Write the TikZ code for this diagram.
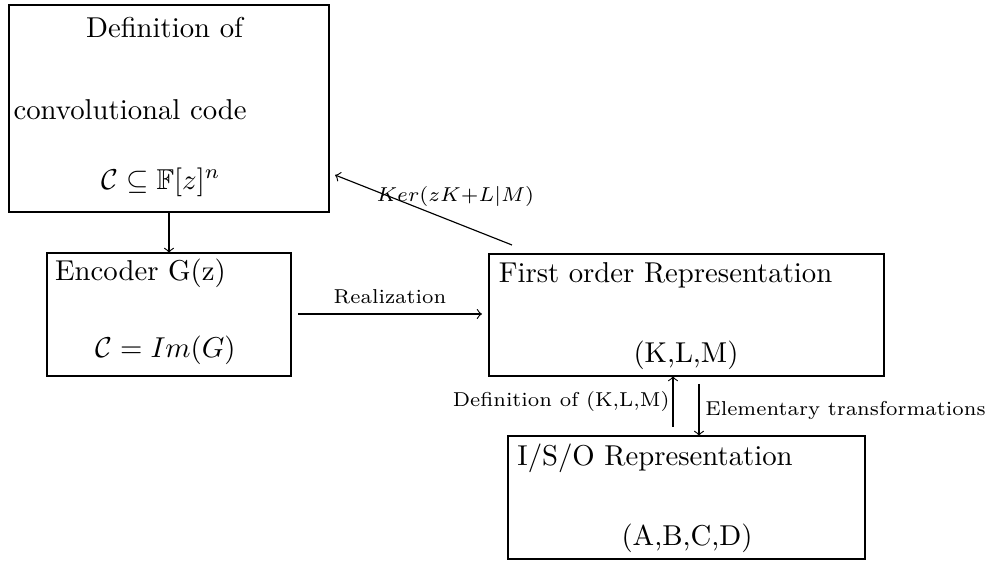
\documentclass[tikz,border=0pt]{standalone}
\usepackage{amsmath,amssymb,amsfonts}
\usepackage{xcolor}
\usepackage{tikz}
\usetikzlibrary{shapes,arrows,positioning,fit}

\newdimen\pxu
\pxu=0.348pt

\begin{document}
\begin{tikzpicture}[
    x=\pxu, y=-\pxu,
    box/.style={rectangle, draw, inner sep=0pt, outer sep=0pt},
    txt/.style={inner sep=0pt},
    lbl/.style={font=\scriptsize},
    arrow/.style={->}
]
    \useasboundingbox (0,0) rectangle (985,561);

    % boxes
    \node[box, minimum width=320*\pxu, minimum height=207*\pxu] (def) at (169,108.5) {};
    \node[box, minimum width=244*\pxu, minimum height=123*\pxu] (enc) at (169,314.5) {};
    \node[box, minimum width=395*\pxu, minimum height=122*\pxu] (first) at (686.5,315) {};
    \node[box, minimum width=357*\pxu, minimum height=123*\pxu] (iso) at (686.5,497.5) {};

    % box texts
    \node[txt] (deftop) at (164.5,28) {Definition of};
    \node[txt, anchor=west] (defmid) at (13,110) {convolutional code};
    \node[txt] (defbot) at (161,182) {$\mathcal{C}\subseteq\mathbb{F}[z]^n$};
    \node[txt] (enctop) at (140.5,273) {Encoder G(z)};
    \node[txt] (encbot) at (165.5,350) {$\mathcal{C}=Im(G)$};
    \node[txt] (firsttop) at (665.5,275) {First order Representation};
    \node[txt] (firstbot) at (686,355) {(K,L,M)};
    \node[txt] (isotop) at (655,458) {I/S/O Representation};
    \node[txt] (isobot) at (687,538) {(A,B,C,D)};

    % free ends
    \coordinate (kerin) at (512,245);
    \coordinate (kerout) at (335,175);
    \coordinate (upin) at (673,427);
    \coordinate (downin) at (699,384);
    \coordinate (downout) at (699,436);
    \coordinate (realin) at (298,314);
    \coordinate (realout) at (482,314);

    \draw[arrow] (def.south) -- (enc.north);
    \draw[arrow] (realin) -- node[lbl, above] {Realization} (realout);
    \draw[arrow] (kerin) -- node[lbl, pos=0.32, yshift=9pt] {$Ker(zK{+}L|M)$} (kerout);
    \draw[arrow] (upin) -- node[lbl, left, inner sep=1pt] {Definition of (K,L,M)} (upin |- first.south);
    \draw[arrow] (downin) -- node[lbl, right, inner sep=2pt] {Elementary transformations} (downout);
\end{tikzpicture}
\end{document}
